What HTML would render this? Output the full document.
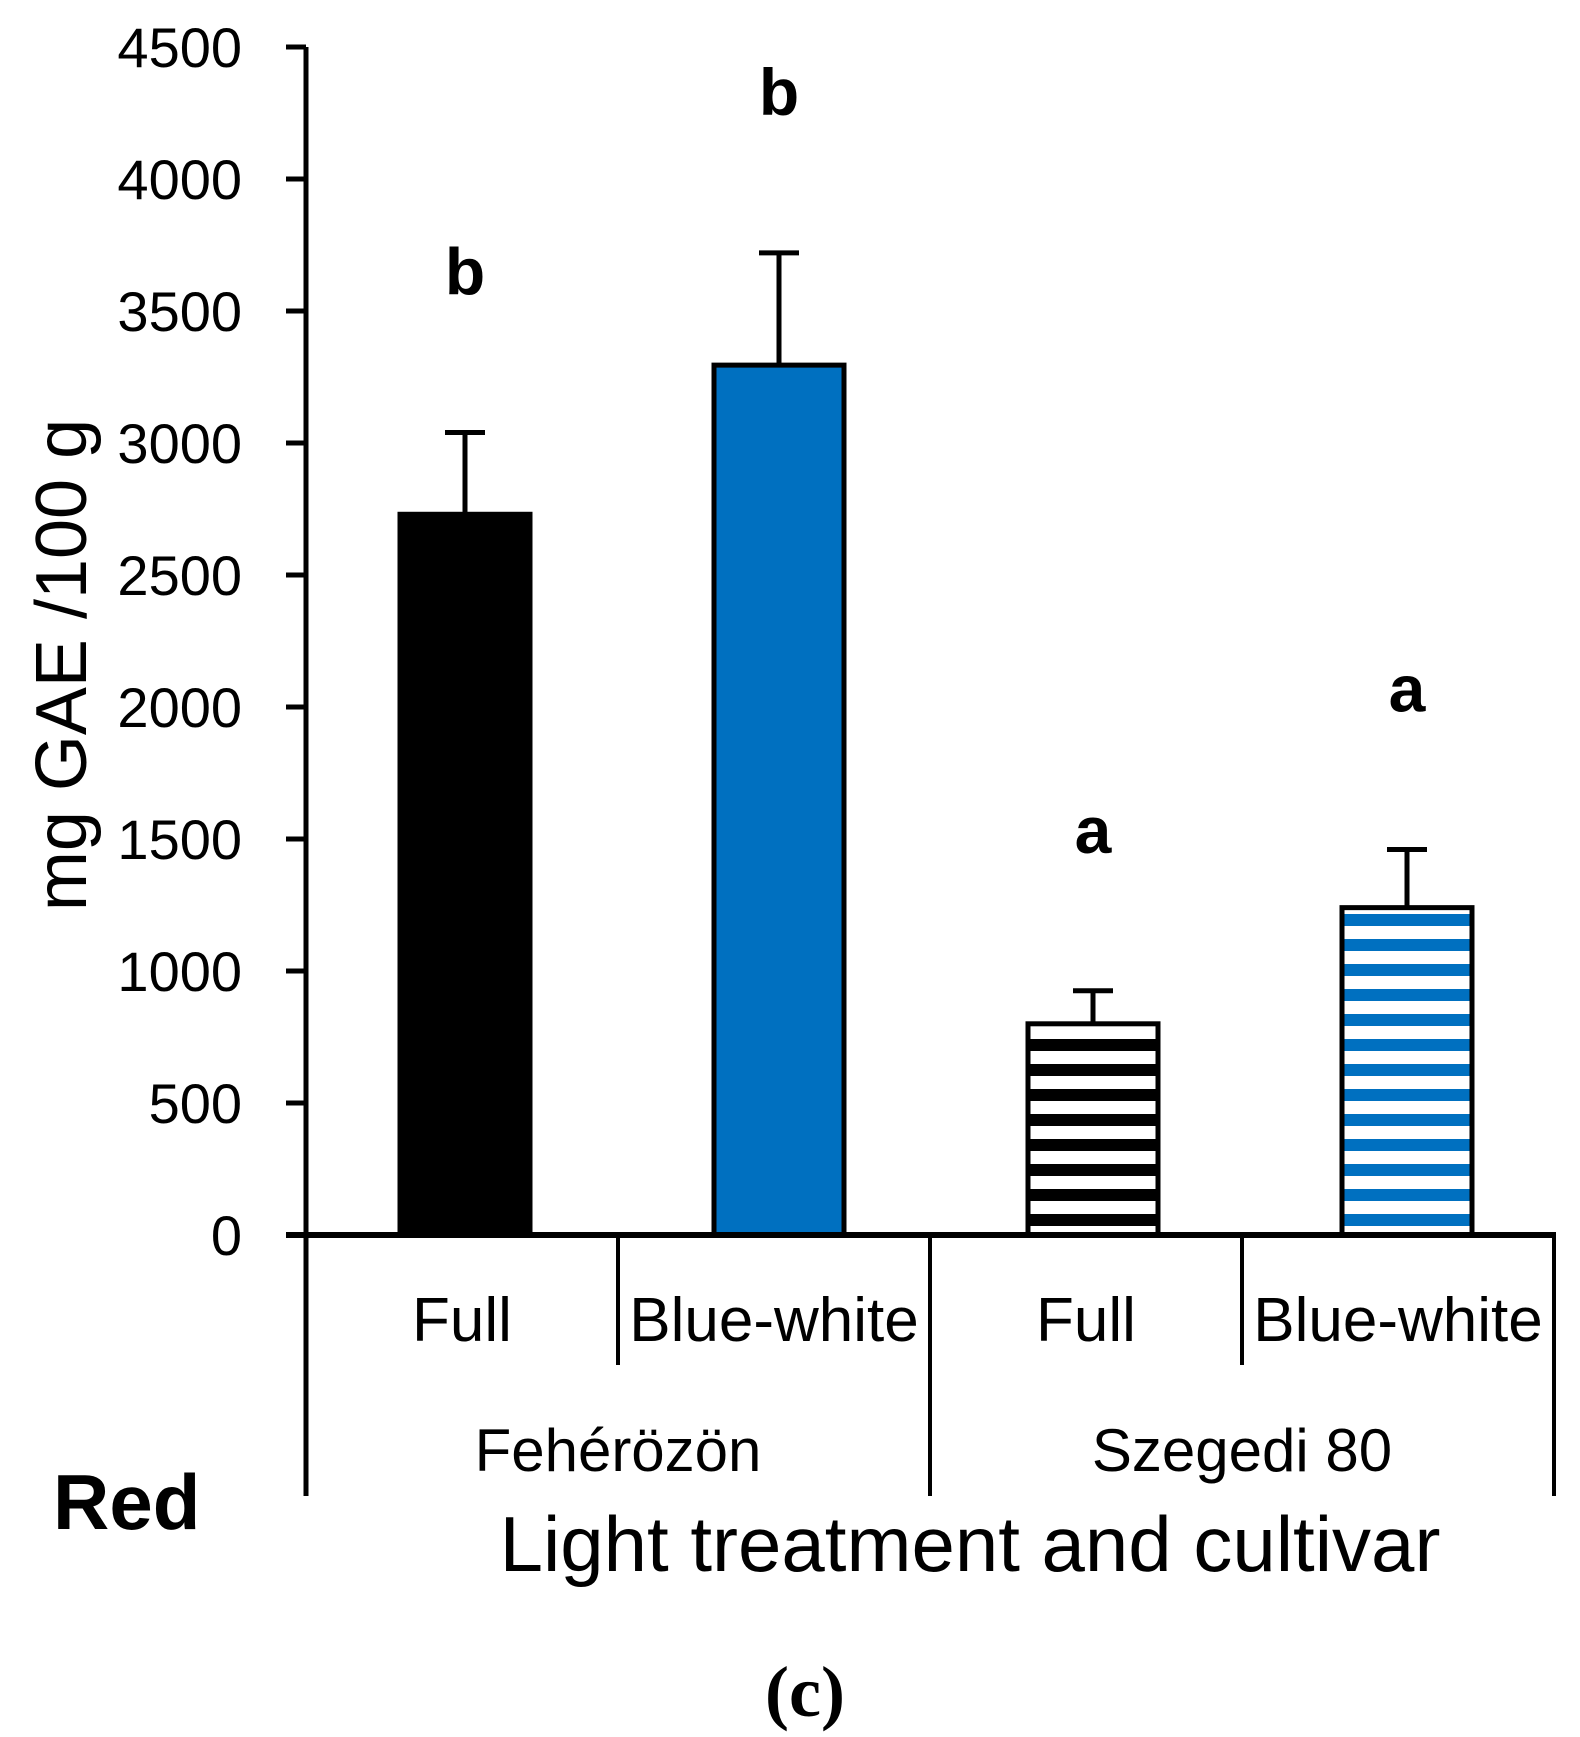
<!DOCTYPE html>
<html><head><meta charset="utf-8"><style>
html,body{margin:0;padding:0;background:#fff;}
svg{display:block;font-family:"Liberation Sans",sans-serif;}
</style></head><body>
<svg id="chart" width="1580" height="1737" viewBox="0 0 1580 1737" xmlns="http://www.w3.org/2000/svg">
<defs>
<pattern id="stripeBlack" patternUnits="userSpaceOnUse" x="0" y="1214" width="10" height="25"><rect x="0" y="0" width="10" height="12" fill="#000"/></pattern>
<pattern id="stripeBlue" patternUnits="userSpaceOnUse" x="0" y="1214" width="10" height="25"><rect x="0" y="0" width="10" height="12" fill="#0070C0"/></pattern>
</defs>
<g id="plot"></g>
<text transform="translate(86,665) rotate(-90)" text-anchor="middle" font-size="72">mg GAE /100 g</text>
<text x="53" y="1529" font-size="78" font-weight="bold">Red</text>
<text x="970" y="1571" text-anchor="middle" font-size="78">Light treatment and cultivar</text>
<text x="805" y="1716" text-anchor="middle" font-size="72" font-weight="bold" font-family="Liberation Serif, serif">(c)</text>
</svg>
<script>
const categories = ["Full", "Blue-white", "Full", "Blue-white"];
const cultivars = ["Fehérözön", "Szegedi 80"];
const values = [2730, 3295, 800, 1240];
const errors = [310, 425, 125, 220];
const letters = ["b", "b", "a", "a"];
const yTicks = [0, 500, 1000, 1500, 2000, 2500, 3000, 3500, 4000, 4500];

const NS = "http://www.w3.org/2000/svg";
const g = document.getElementById("plot");
const x0 = 306, catW = 312, y0 = 1235, yTop = 47, yMax = 4500, barW = 130;
function y(v){ return y0 - (v / yMax) * (y0 - yTop); }
function xc(i){ return 465 + 314 * i; }
function el(tag, attrs){ const e = document.createElementNS(NS, tag); for (const k in attrs) e.setAttribute(k, attrs[k]); g.appendChild(e); return e; }

const fills = ["#000", "#0070C0", "url(#stripeBlack)", "url(#stripeBlue)"];
values.forEach((v, i) => {
  const cx = xc(i);
  const bar = el("rect", {x: cx - barW/2, y: y(v), width: barW, height: y0 - y(v), fill: fills[i] , stroke: "#000", "stroke-width": 5});
  
  
  const et = y(v + errors[i]);
  const eb = el("path", {d: `M${cx},${y(v)} V${et} M${cx-20},${et} H${cx+20}`, stroke: "#000", "stroke-width": 5, fill: "none"});
  
  
  const t = el("text", {x: cx, y: et - 138, "text-anchor": "middle", "font-size": 66, "font-weight": "bold"});
  t.textContent = letters[i];
  
  
  const c = el("text", {x: x0 + catW * (i + 0.5), y: 1341, "text-anchor": "middle", "font-size": 62});
  c.textContent = categories[i];
  
  
});
cultivars.forEach((c, j) => {
  const t = el("text", {x: x0 + catW * (2*j + 1), y: 1471, "text-anchor": "middle", "font-size": 60});
  t.textContent = c;
  
  
});
const ya = el("line", {x1: x0, y1: yTop, x2: x0, y2: 1496, stroke: "#000", "stroke-width": 5});


const xa = el("line", {x1: 286, y1: y0, x2: x0 + catW*4 + 2, y2: y0, stroke: "#000", "stroke-width": 6});


for (let k = 1; k <= 4; k++) {
  const long = (k % 2 === 0);
  const d = el("line", {x1: x0 + catW*k, y1: y0, x2: x0 + catW*k, y2: long ? 1496 : 1365, stroke: "#000", "stroke-width": 4});
  
  
}
yTicks.forEach(v => {
  const tk = el("line", {x1: 286, y1: y(v), x2: x0, y2: y(v), stroke: "#000", "stroke-width": 5});
  
  
  const t = el("text", {x: 242, y: y(v) + 20, "text-anchor": "end", "font-size": 56});
  t.textContent = v;
  
  
});
</script>
</body></html>
